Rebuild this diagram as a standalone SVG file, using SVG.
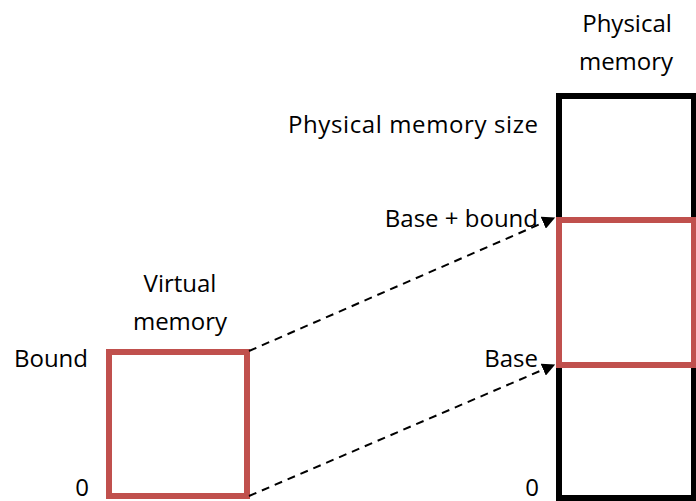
<svg xmlns="http://www.w3.org/2000/svg" width="696" height="501" viewBox="0 0 696 501">
<style>
text{font-family:"Open Sans","Liberation Sans",sans-serif;font-size:24px;fill:#000}
.blk{fill:none;stroke:#000;stroke-width:6}
.red{fill:none;stroke:#C0504D;stroke-width:6}
.dash{stroke:#000;stroke-width:2;stroke-dasharray:8,6;fill:none}
</style>
<defs>
<marker id="ah" viewBox="0 0 10 10" refX="9" refY="5" markerWidth="6.5" markerHeight="6.5" orient="auto" markerUnits="strokeWidth">
<path d="M0,0 L10,5 L0,10 z" fill="#000"/>
</marker>
</defs>
<rect width="696" height="501" fill="#fff"/>
<g id="physical-memory">
<rect class="blk" x="559" y="96" width="135" height="402"/>
<text x="627" y="32" text-anchor="middle">Physical</text>
<text x="626" y="70" text-anchor="middle">memory</text>
<text x="538" y="133" text-anchor="end" textLength="250">Physical memory size</text>
<text x="539" y="496" text-anchor="end">0</text>
</g>
<g id="mapped-region">
<rect class="red" x="559" y="220" width="135" height="145"/>
<text x="538" y="227" text-anchor="end">Base + bound</text>
<text x="538" y="367" text-anchor="end">Base</text>
</g>
<g id="virtual-memory">
<rect class="red" x="109" y="352" width="138" height="144"/>
<text x="180" y="292" text-anchor="middle">Virtual</text>
<text x="180" y="330" text-anchor="middle">memory</text>
<text x="88" y="367" text-anchor="end">Bound</text>
<text x="89" y="496" text-anchor="end">0</text>
</g>
<g id="connectors">
<line class="dash" x1="249" y1="351" x2="554" y2="218" marker-end="url(#ah)"/>
<line class="dash" x1="249" y1="496" x2="554" y2="365" marker-end="url(#ah)"/>
</g>
</svg>
